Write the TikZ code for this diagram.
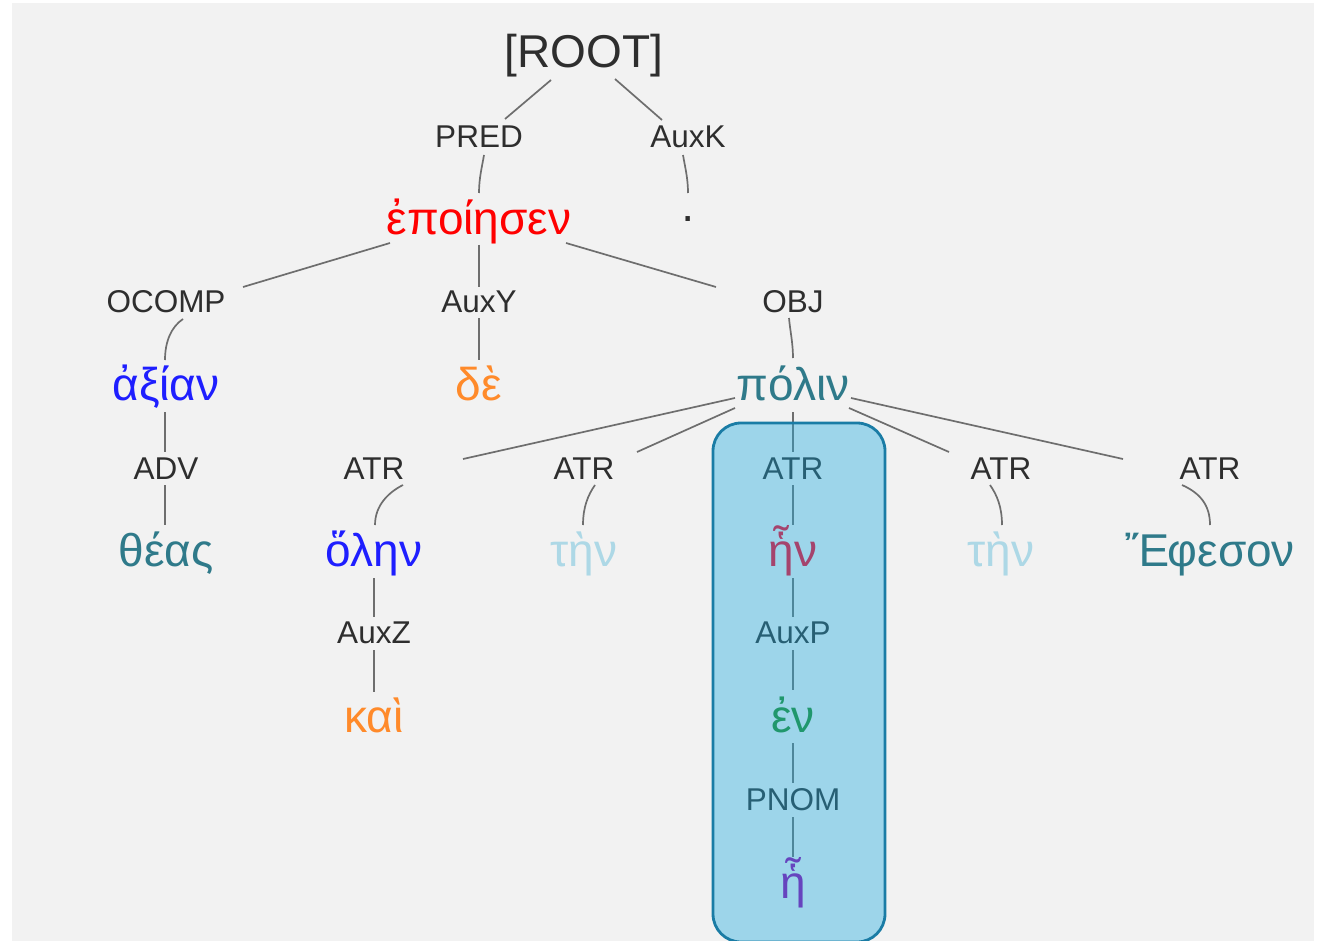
\documentclass[tikz,border=0pt]{standalone}
\usepackage{fontspec}
\setmainfont{Liberation Sans}
\definecolor{bg}{HTML}{F2F2F2}
\definecolor{lab}{HTML}{2E2E2E}
\definecolor{edgec}{HTML}{6E6E6E}
\definecolor{wred}{HTML}{FF0000}
\definecolor{wblue}{HTML}{1E1EFF}
\definecolor{worange}{HTML}{FF8A2A}
\definecolor{wteal}{HTML}{2F7A8A}
\definecolor{wlight}{HTML}{ADD8E6}
\definecolor{wcrim}{HTML}{FF0022}
\definecolor{wgreen}{HTML}{228B22}
\definecolor{wpurp}{HTML}{9600AA}
\definecolor{hlfill}{RGB}{30,170,222}
\definecolor{hlborder}{HTML}{1A7CA5}
\newcommand{\lowr}[1]{\raisebox{-3pt}{#1}}
\begin{document}
\begin{tikzpicture}[x=1pt,y=-1pt,
  lbl/.style={anchor=base, inner sep=0pt, text=lab, font=\fontsize{31.5}{36}\selectfont},
  wrd/.style={anchor=base, inner sep=0pt, font=\fontsize{46}{50}\selectfont},
  edge/.style={draw=edgec, line width=1.7pt},
  hlbox/.style={draw=hlborder, line width=2.8pt, fill=hlfill, fill opacity=0.4, rounded corners=28pt}]
\useasboundingbox (0,0) rectangle (1327,941);
\clip (0,0) rectangle (1327,941);
\fill[white] (0,0) rectangle (1327,941);
\fill[bg] (12,3) rectangle (1314,945);

% nodes
\node[wrd, text=lab] (root) at (584,68) {[ROOT]};
\node[lbl] (pred) at (479,148) {PRED};
\node[lbl] (auxk) at (688,148) {AuxK};
\node[wrd, text=wred] (epoiesen) at (479,232) {\lowr{ἐποίησεν}};
\node[wrd, text=lab] (dot) at (688,232) {·};
\node[lbl] (ocomp) at (166,312) {OCOMP};
\node[lbl] (auxy) at (479,312) {AuxY};
\node[lbl] (obj) at (793,312) {OBJ};
\node[wrd, text=wblue] (axian) at (166,397) {\lowr{ἀξίαν}};
\node[wrd, text=worange] (de) at (479,397) {\lowr{δὲ}};
\node[wrd, text=wteal] (polin) at (793,397) {\lowr{πόλιν}};
\node[lbl] (adv) at (166,479) {ADV};
\node[lbl] (atra) at (374,479) {ATR};
\node[lbl] (atrb) at (584,479) {ATR};
\node[lbl] (atrc) at (793,479) {ATR};
\node[lbl] (atrd) at (1001,479) {ATR};
\node[lbl] (atre) at (1210,479) {ATR};
\node[wrd, text=wteal] (theas) at (166,563) {\lowr{θέας}};
\node[wrd, text=wblue] (olen) at (374,563) {\lowr{ὅλην}};
\node[wrd, text=wlight] (tena) at (584,563) {\lowr{τὴν}};
\node[wrd, text=wcrim] (hen) at (793,563) {\lowr{ἧν}};
\node[wrd, text=wlight] (tenb) at (1001,563) {\lowr{τὴν}};
\node[wrd, text=wteal] (ephesos) at (1210,563) {\lowr{Ἔφεσον}};
\node[lbl] (auxz) at (374,643) {AuxZ};
\node[lbl] (auxp) at (793,643) {AuxP};
\node[wrd, text=worange] (kai) at (374,729) {\lowr{καὶ}};
\node[wrd, text=wgreen] (en) at (793,729) {\lowr{ἐν}};
\node[lbl] (pnom) at (793,810) {PNOM};
\node[wrd, text=wpurp] (he) at (793,895) {\lowr{ἧ}};

% connectors
\draw[edge] ([shift={(-33,12)}]root.base) -- ([shift={(26,-29)}]pred.base);
\draw[edge] ([shift={(31,11)}]root.base) -- ([shift={(-26,-28)}]auxk.base);
\draw[edge] ([shift={(5,7)}]pred.base) .. controls +(-2,12) and +(0,-15) .. ([shift={(0,-39)}]epoiesen.base);
\draw[edge] ([shift={(-5,7)}]auxk.base) .. controls +(2,12) and +(0,-15) .. ([shift={(0,-39)}]dot.base);
\draw[edge] ([shift={(-89,11)}]epoiesen.base) -- ([shift={(77,-25)}]ocomp.base);
\draw[edge] ([shift={(0,13)}]epoiesen.base) -- ([shift={(0,-25)}]auxy.base);
\draw[edge] ([shift={(0,6)}]auxy.base) -- ([shift={(0,-37)}]de.base);
\draw[edge] ([shift={(87,11)}]epoiesen.base) -- ([shift={(-77,-25)}]obj.base);
\draw[edge] ([shift={(-4,6)}]obj.base) .. controls +(1,12) and +(0,-15) .. ([shift={(0,-39)}]polin.base);
\draw[edge] ([shift={(17,7)}]ocomp.base) .. controls +(-12,8) and +(0,-18) .. ([shift={(-1,-37)}]axian.base);
\draw[edge] ([shift={(-1,15)}]axian.base) -- ([shift={(-1,-27)}]adv.base);
\draw[edge] ([shift={(-1,6)}]adv.base) -- ([shift={(-1,-38)}]theas.base);
\draw[edge] ([shift={(-58,1)}]polin.base) -- ([shift={(89,-20)}]atra.base);
\draw[edge] ([shift={(-58,11)}]polin.base) -- ([shift={(53,-27)}]atrb.base);
\draw[edge] ([shift={(0,15)}]polin.base) -- ([shift={(0,-27)}]atrc.base);
\draw[edge] ([shift={(56,11)}]polin.base) -- ([shift={(-52,-27)}]atrd.base);
\draw[edge] ([shift={(58,1)}]polin.base) -- ([shift={(-87,-20)}]atre.base);
\draw[edge] ([shift={(29,6)}]atra.base) .. controls +(-14,7) and +(0,-20) .. ([shift={(1,-38)}]olen.base);
\draw[edge] ([shift={(11,6)}]atrb.base) .. controls +(-7,10) and +(0,-18) .. ([shift={(-1,-38)}]tena.base);
\draw[edge] ([shift={(0,6)}]atrc.base) -- ([shift={(0,-38)}]hen.base);
\draw[edge] ([shift={(-11,6)}]atrd.base) .. controls +(7,10) and +(0,-18) .. ([shift={(1,-38)}]tenb.base);
\draw[edge] ([shift={(-28,6)}]atre.base) .. controls +(18,8) and +(0,-20) .. ([shift={(0,-38)}]ephesos.base);
\draw[edge] ([shift={(0,15)}]olen.base) -- ([shift={(0,-26)}]auxz.base);
\draw[edge] ([shift={(0,7)}]auxz.base) -- ([shift={(0,-37)}]kai.base);
\draw[edge] ([shift={(0,15)}]hen.base) -- ([shift={(0,-26)}]auxp.base);
\draw[edge] ([shift={(0,7)}]auxp.base) -- ([shift={(0,-39)}]en.base);
\draw[edge] ([shift={(0,14)}]en.base) -- ([shift={(0,-27)}]pnom.base);
\draw[edge] ([shift={(0,7)}]pnom.base) -- ([shift={(0,-38)}]he.base);

% highlight box
\path[hlbox] (713,423) rectangle (885,942);
\end{tikzpicture}
\end{document}
